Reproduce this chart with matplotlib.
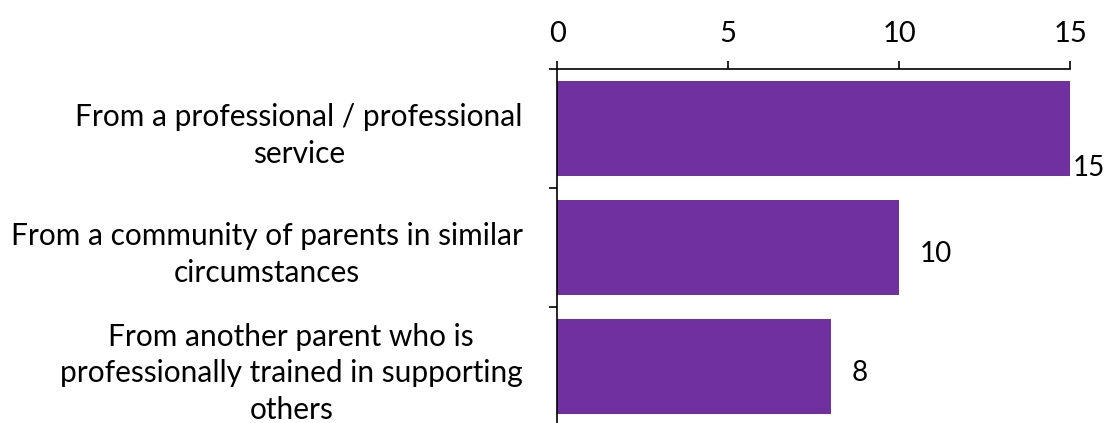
import matplotlib.pyplot as plt
import numpy as np

categories = [
    "From a professional / professional\nservice",
    "From a community of parents in similar\ncircumstances",
    "From another parent who is\nprofessionally trained in supporting\nothers",
]
values = [15, 10, 8]
x_ticks = [0, 5, 10, 15]

purple = "#7030A0"
plt.rcParams["font.family"] = ["Lato", "DejaVu Sans"]

fig = plt.figure(figsize=(11.08, 4.23), dpi=100)
ax = fig.add_axes([0.503, -0.007, 0.463, 0.844])

y = np.arange(len(values))
bars = ax.barh(y, values, height=0.8, color=purple)

ax.set_xlim(0, 15)
ax.set_ylim(len(values) - 0.5, -0.5)
ax.xaxis.tick_top()
ax.set_xticks(x_ticks)
ax.tick_params(axis="x", direction="out", length=6, width=1.2, pad=10,
               labelsize=21, color="black")

# category labels on major ticks, tick marks on the boundaries between them
ax.set_yticks(y)
ax.set_yticklabels(categories, fontsize=21.5, multialignment="center",
                   linespacing=1.38)
ax.tick_params(axis="y", which="major", length=0, pad=25)
ax.set_yticks(np.arange(-0.5, len(values)), minor=True)
ax.tick_params(axis="y", which="minor", direction="out", length=6, width=1.2)

for side in ["right", "bottom"]:
    ax.spines[side].set_visible(False)
for side in ["top", "left"]:
    ax.spines[side].set_linewidth(1.2)

# value labels just past the bar ends
for i, (bar, v) in enumerate(zip(bars, values)):
    cy = bar.get_y() + bar.get_height() / 2
    if i == 0:
        ax.annotate(str(v), (v, cy), xytext=(2, -28.5), textcoords="offset points",
                    ha="left", va="center", fontsize=20, annotation_clip=False)
    else:
        ax.annotate(str(v), (v, cy), xytext=(15, -5), textcoords="offset points",
                    ha="left", va="center", fontsize=20)

fig.savefig("out.png", dpi=100)
